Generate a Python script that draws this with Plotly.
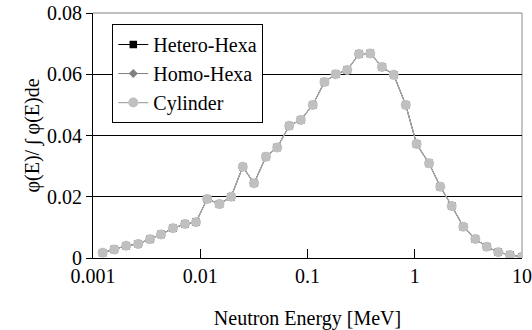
import plotly.graph_objects as go

energy = [0.00123, 0.00158, 0.00204, 0.00264, 0.0034, 0.00431, 0.00557, 0.00721, 0.00912,
          0.0116, 0.0151, 0.0194, 0.0249, 0.0317, 0.041, 0.0522, 0.0676, 0.0865,
          0.112, 0.144, 0.183, 0.235, 0.302, 0.385, 0.495, 0.637, 0.824,
          1.04, 1.36, 1.73, 2.21, 2.84, 3.67, 4.69, 6.01, 7.73, 10.0]

hetero_hexa = [0.0017, 0.0028, 0.0040, 0.0046, 0.0061, 0.0077, 0.0097, 0.0111, 0.0117,
               0.0193, 0.0176, 0.0200, 0.0298, 0.0244, 0.0331, 0.0361, 0.0432, 0.0451,
               0.0500, 0.0575, 0.0600, 0.0614, 0.0666, 0.0668, 0.0624, 0.0598, 0.0500,
               0.0372, 0.0309, 0.0233, 0.0170, 0.0102, 0.0062, 0.0037, 0.0019, 0.0010, 0.0004]

homo_hexa = [0.0017, 0.0028, 0.0040, 0.0046, 0.0061, 0.0077, 0.0097, 0.0111, 0.0117,
             0.0193, 0.0176, 0.0200, 0.0298, 0.0244, 0.0331, 0.0361, 0.0432, 0.0451,
             0.0500, 0.0575, 0.0600, 0.0614, 0.0666, 0.0668, 0.0624, 0.0598, 0.0500,
             0.0372, 0.0309, 0.0233, 0.0170, 0.0102, 0.0062, 0.0037, 0.0019, 0.0010, 0.0004]

cylinder = [0.0017, 0.0028, 0.0040, 0.0046, 0.0061, 0.0077, 0.0097, 0.0111, 0.0117,
            0.0193, 0.0176, 0.0200, 0.0298, 0.0244, 0.0331, 0.0361, 0.0432, 0.0451,
            0.0500, 0.0575, 0.0600, 0.0614, 0.0666, 0.0668, 0.0624, 0.0598, 0.0500,
            0.0372, 0.0309, 0.0233, 0.0170, 0.0102, 0.0062, 0.0037, 0.0019, 0.0010, 0.0004]

x_tickvals = [0.001, 0.01, 0.1, 1, 10]
x_ticktext = ["0.001", "0.01", "0.1", "1", "10"]
y_tickvals = [0, 0.02, 0.04, 0.06, 0.08]
y_ticktext = ["0", "0.02", "0.04", "0.06", "0.08"]

FONT = "Liberation Serif"

fig = go.Figure()
fig.add_trace(go.Scatter(x=energy, y=hetero_hexa, name="Hetero-Hexa", mode="lines+markers",
                         line=dict(color="black", width=1),
                         marker=dict(symbol="square", size=7.5, color="black")))
fig.add_trace(go.Scatter(x=energy, y=homo_hexa, name="Homo-Hexa", mode="lines+markers",
                         line=dict(color="#808080", width=1),
                         marker=dict(symbol="diamond", size=7, color="#808080")))
fig.add_trace(go.Scatter(x=energy, y=cylinder, name="Cylinder", mode="lines+markers",
                         line=dict(color="#a8a8a8", width=1.2),
                         marker=dict(symbol="circle", size=10, color="#c0c0c0")))

fig.update_layout(
    template="none",
    width=532, height=330,
    margin=dict(l=93, r=10, t=13, b=72),
    paper_bgcolor="white", plot_bgcolor="white",
    font=dict(family=FONT, size=20, color="black"),
    showlegend=True,
    legend=dict(x=0.045, y=0.955, xanchor="left", yanchor="top",
                bgcolor="white", bordercolor="black", borderwidth=1,
                font=dict(family=FONT, size=20)),
    xaxis=dict(type="log", range=[-3, 1], tickvals=x_tickvals, ticktext=x_ticktext,
               automargin=False,
               showgrid=False, zeroline=False,
               showline=True, linecolor="black", linewidth=1,
               ticks="inside", ticklen=9, tickcolor="black",
               title=dict(text="Neutron Energy [MeV]", font=dict(family=FONT, size=20))),
    yaxis=dict(range=[0, 0.08], tickvals=y_tickvals, ticktext=y_ticktext,
               automargin=False,
               showgrid=True, gridcolor="black", gridwidth=1, zeroline=False,
               showline=True, linecolor="black", linewidth=1,
               ticks="outside", ticklen=6, tickcolor="black",
               title=dict(text="φ(E)/ ∫ φ(E)de", font=dict(family=FONT, size=20))),
    shapes=[
        dict(type="line", xref="paper", yref="paper", x0=0, x1=1, y0=1, y1=1,
             line=dict(color="#808080", width=1), layer="above"),
        dict(type="line", xref="paper", yref="paper", x0=1, x1=1, y0=0, y1=1,
             line=dict(color="#b0b0b0", width=1.5), layer="below"),
    ],
)

fig.write_html("out.html")
